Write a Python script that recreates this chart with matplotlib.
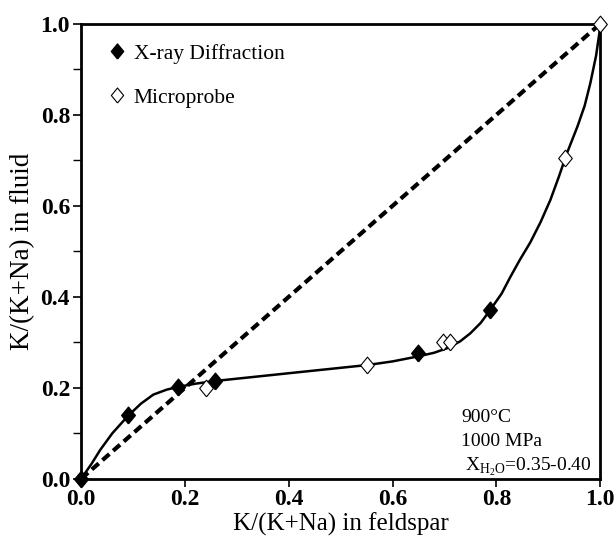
import matplotlib
matplotlib.use("Agg")
import matplotlib.pyplot as plt
from matplotlib.ticker import MultipleLocator

plt.rcParams['font.family'] = ['Liberation Serif', 'DejaVu Serif']
plt.rcParams['mathtext.fontset'] = 'custom'
plt.rcParams['mathtext.rm'] = 'Liberation Serif'

# measured points
xrd_x = [0.0, 0.09, 0.187, 0.258, 0.649, 0.788]
xrd_y = [0.0, 0.14, 0.202, 0.215, 0.277, 0.371]
probe_x = [0.241, 0.551, 0.697, 0.711, 0.933, 1.0]
probe_y = [0.200, 0.250, 0.301, 0.301, 0.705, 1.0]

# hand-drawn trend curve
curve_x = [0.0, 0.02, 0.037, 0.06, 0.09, 0.115, 0.139, 0.165, 0.187, 0.22, 0.258,
           0.40, 0.551, 0.60, 0.649, 0.68, 0.705, 0.73, 0.75, 0.77, 0.788, 0.81,
           0.827, 0.845, 0.865, 0.885, 0.904, 0.92, 0.936, 0.956, 0.97, 0.981, 0.992, 1.0]
curve_y = [0.0, 0.033, 0.064, 0.10, 0.138, 0.165, 0.185, 0.196, 0.202, 0.209, 0.215,
           0.232, 0.250, 0.258, 0.269, 0.277, 0.287, 0.302, 0.320, 0.343, 0.371, 0.407,
           0.444, 0.481, 0.519, 0.564, 0.613, 0.663, 0.716, 0.774, 0.82, 0.870, 0.93, 0.993]

# slightly tall diamond, like the original symbols
diamond = [(0, -1), (0.82, 0), (0, 1), (-0.82, 0), (0, -1)]

fig = plt.figure(figsize=(6.15, 5.41), dpi=100)
ax = fig.add_axes([0.132, 0.115, 0.844, 0.841])

ax.plot([0, 1], [0, 1], color='black', linestyle=(0, (2.2, 1.2)), linewidth=3.0, zorder=2)
ax.plot(curve_x, curve_y, color='black', linewidth=1.8, zorder=3)
ax.plot(xrd_x, xrd_y, linestyle='none', marker=diamond, markersize=12,
        color='black', clip_on=False, zorder=4, label='X-ray Diffraction')
ax.plot(probe_x, probe_y, linestyle='none', marker=diamond, markersize=12,
        markerfacecolor='white', markeredgecolor='black', markeredgewidth=0.8,
        clip_on=False, zorder=4, label='Microprobe')

ax.set_xlim(0, 1)
ax.set_ylim(0, 1)
ax.xaxis.set_major_locator(MultipleLocator(0.2))
ax.yaxis.set_major_locator(MultipleLocator(0.2))
ax.yaxis.set_minor_locator(MultipleLocator(0.1))
ax.tick_params(which='both', direction='out', length=6, width=1.2)
ax.tick_params(axis='y', which='minor', length=6, width=1.0)
ax.tick_params(axis='y', pad=2)
ax.tick_params(axis='x', pad=1)
ax.set_xticklabels(['%.1f' % v for v in ax.get_xticks()], fontsize=17, fontweight='bold')
ax.set_yticklabels(['%.1f' % v for v in ax.get_yticks()], fontsize=17, fontweight='bold')
for s in ax.spines.values():
    s.set_linewidth(2.0)

ax.set_xlabel('K/(K+Na) in feldspar', fontsize=18, labelpad=2)
ax.set_ylabel('K/(K+Na) in fluid', fontsize=19.5, labelpad=4)

leg = ax.legend(loc='upper left', frameon=False, fontsize=15.5, markerscale=0.9,
                handlelength=0.8, handletextpad=0.4, labelspacing=1.1,
                borderaxespad=0.0, bbox_to_anchor=(0.035, 0.975))

ax.text(0.733, 0.125, '900°C', fontsize=14, transform=ax.transAxes)
ax.text(0.731, 0.073, '1000 MPa', fontsize=14, transform=ax.transAxes)
ax.text(0.739, 0.018, r'X$_{\mathrm{H_2O}}$=0.35-0.40', fontsize=14, transform=ax.transAxes)

fig.savefig('out.png', dpi=100)
